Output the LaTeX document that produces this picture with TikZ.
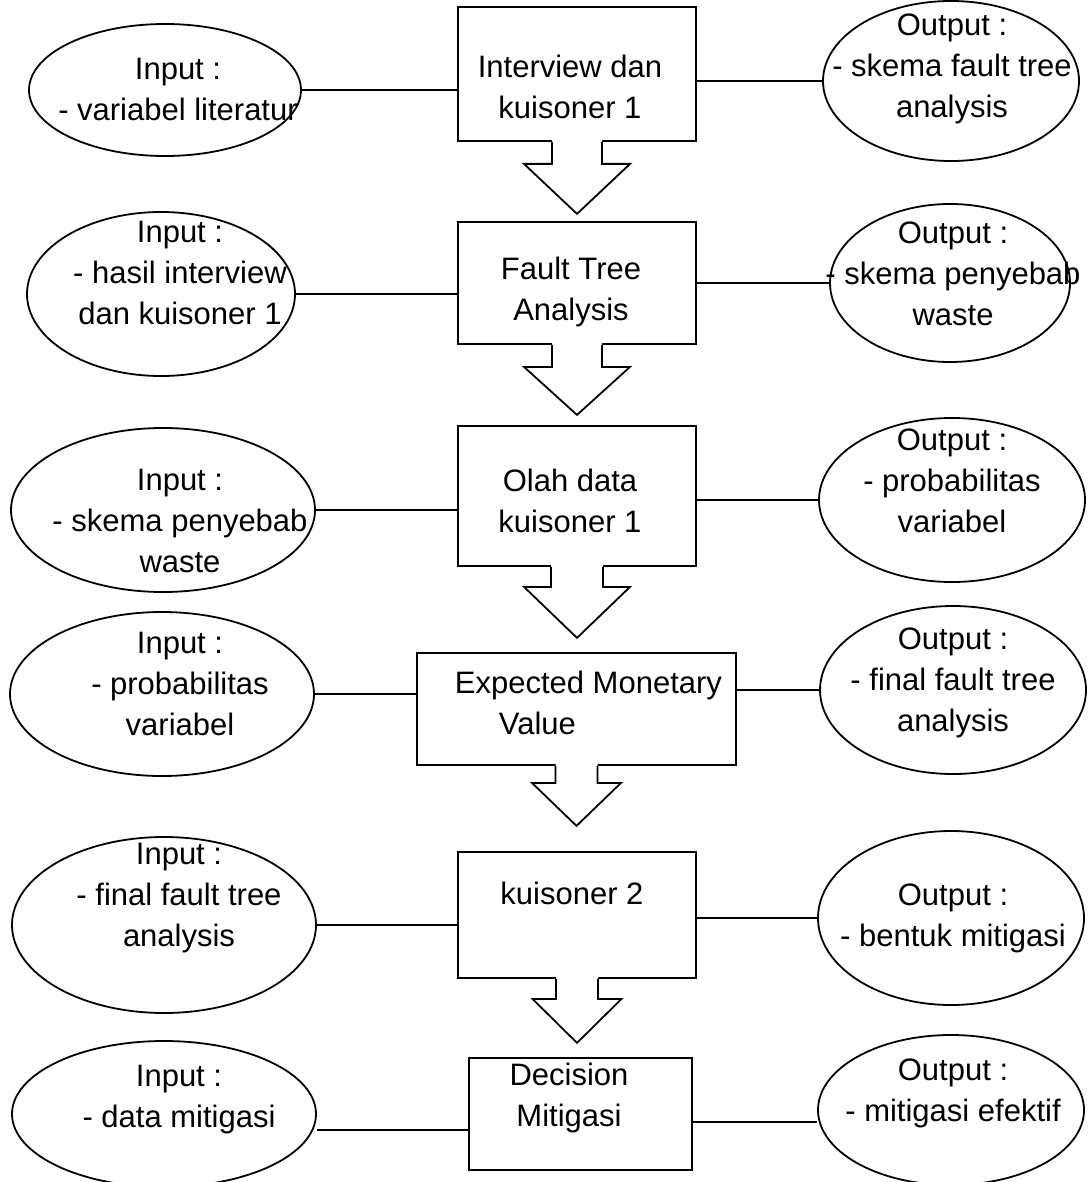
\documentclass[tikz,border=0pt]{standalone}
\usepackage{fontspec}
\setmainfont{Liberation Sans}
\usetikzlibrary{shapes.geometric,calc}
% block arrow hanging below a box: #1 box name, #2 stem half width, #3 stem length, #4 head half width, #5 head length
\newcommand\blockarrow[5]{%
  \begin{scope}[shift={(#1.south)}]
    \fill[white] (-#2,-3) -- (-#2,#3) -- (-#4,#3) -- (0,#3+#5) -- (#4,#3) -- (#2,#3) -- (#2,-3) -- cycle;
    \draw[line join=miter] (-#2,0) -- (-#2,#3) -- (-#4,#3) -- (0,#3+#5) -- (#4,#3) -- (#2,#3) -- (#2,0);
  \end{scope}}
\begin{document}
\begin{tikzpicture}[x=1pt,y=-1pt,line width=1.8pt,
  oval/.style={draw,ellipse,inner sep=0pt},
  stepbox/.style={draw,rectangle,inner sep=0pt},
  lbl/.style={font=\fontsize{31}{41}\selectfont,align=center,inner sep=0pt},
  link/.style={draw}]
\clip (0,0) rectangle (1090,1182);

% ---------- process boxes ----------
\node[stepbox,minimum width=238pt,minimum height=134pt] (b1) at (577,74) {};
\node[stepbox,minimum width=238pt,minimum height=122pt] (b2) at (577,283) {};
\node[stepbox,minimum width=238pt,minimum height=140pt] (b3) at (577,496) {};
\node[stepbox,minimum width=319pt,minimum height=112pt] (b4) at (576.5,709) {};
\node[stepbox,minimum width=238pt,minimum height=126pt] (b5) at (577,915) {};
\node[stepbox,minimum width=223pt,minimum height=112pt] (b6) at (580.5,1114) {};

\node[lbl] (tb1) at (570,87) {Interview dan\\kuisoner 1};
\node[lbl] (tb2) at (571,292) {Fault Tree\\Analysis};
\node[lbl] (tb3) at (570,501) {Olah data\\kuisoner 1};
\node[lbl,anchor=west] (tb4a) at (454,685) {Expected Monetary};
\node[lbl,anchor=west] (tb4b) at (498,723) {Value};
\node[lbl] (tb5) at (572,893) {kuisoner 2};
\node[lbl] (tb6) at (569,1098) {Decision\\Mitigasi};

% ---------- block arrows ----------
\blockarrow{b1}{25}{22}{53}{50}
\blockarrow{b2}{25}{22}{53}{48}
\blockarrow{b3}{26}{20}{53}{51}
\blockarrow{b4}{21}{17}{44.5}{43}
\blockarrow{b5}{21}{20}{44.5}{44}

% ---------- input ellipses ----------
\node[oval,minimum width=272pt,minimum height=132pt] (l1) at (165,90) {};
\node[oval,minimum width=268pt,minimum height=164pt] (l2) at (161,294) {};
\node[oval,minimum width=304pt,minimum height=164pt] (l3) at (163,510) {};
\node[oval,minimum width=304pt,minimum height=164pt] (l4) at (162,694) {};
\node[oval,minimum width=304pt,minimum height=176pt] (l5) at (164,925) {};
\node[oval,minimum width=304pt,minimum height=146pt] (l6) at (164,1114) {};

\node[lbl] (tl1) at (178,89) {Input :\\- variabel literatur};
\node[lbl] (tl2) at (180,273) {Input :\\- hasil interview\\dan kuisoner 1};
\node[lbl] (tl3) at (180,521) {Input :\\- skema penyebab\\waste};
\node[lbl] (tl4) at (180,684) {Input :\\- probabilitas\\variabel};
\node[lbl] (tl5) at (179,898) {Input :\\- final fault tree\\analysis};
\node[lbl] (tl6) at (179,1100) {Input :\\- data mitigasi};

% ---------- output ellipses ----------
\node[oval,minimum width=256pt,minimum height=160pt] (r1) at (951,81) {};
\node[oval,minimum width=240pt,minimum height=158pt] (r2) at (950,283) {};
\node[oval,minimum width=266pt,minimum height=164pt] (r3) at (952,500) {};
\node[oval,minimum width=266pt,minimum height=168pt] (r4) at (953,690) {};
\node[oval,minimum width=266pt,minimum height=174pt] (r5) at (951,918) {};
\node[oval,minimum width=266pt,minimum height=150pt] (r6) at (951,1110) {};

\node[lbl] (tr1) at (952,69) {Output :\\- skema fault tree\\analysis};
\node[lbl] (tr2) at (953,274) {Output :\\- skema penyebab\\waste};
\node[lbl] (tr3) at (952,481) {Output :\\- probabilitas\\variabel};
\node[lbl] (tr4) at (953,683) {Output :\\- final fault tree\\analysis};
\node[lbl] (tr5) at (953,918) {Output :\\- bentuk mitigasi};
\node[lbl] (tr6) at (953,1093) {Output :\\- mitigasi efektif};

% ---------- connectors ----------
\foreach \i in {1,...,5}{
  \draw[link] (l\i.east) -- (l\i.east -| b\i.west);
  \draw[link] (b\i.east |- r\i.west) -- (r\i.west);
}
\draw[link] ([yshift=-16pt]l6.east) -- ([yshift=-16pt]l6.east -| b6.west);
\draw[link] ([yshift=-12pt]b6.east |- r6.west) -- ([yshift=-12pt]r6.west);
\end{tikzpicture}
\end{document}
